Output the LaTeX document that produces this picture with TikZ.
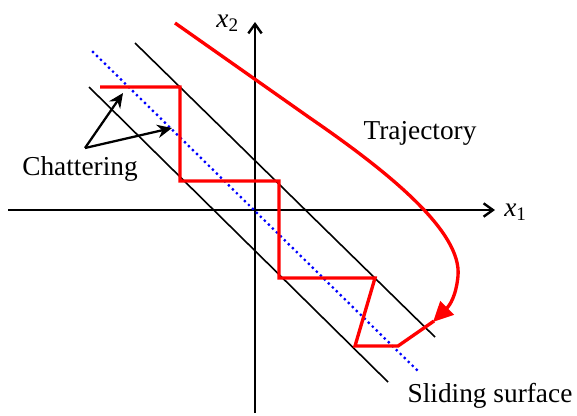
\documentclass[tikz,border=0pt]{standalone}
\usepackage{fontspec}
\setmainfont{Liberation Serif}
\usetikzlibrary{arrows.meta}
\begin{document}
\begin{tikzpicture}[x=0.75pt,y=-0.75pt,
  axis/.style={line width=1.6pt,-{Straight Barb[length=7pt,width=10pt,line width=1.8pt]}},
  band/.style={line width=1.2pt,black},
  surf/.style={blue,line width=2.4pt,line cap=round,dash pattern=on 0pt off 4.2pt},
  redpath/.style={red,line width=2.5pt,line join=miter},
  pointer/.style={line width=1.7pt,-{Stealth[length=11pt,width=10pt]}},
  lbl/.style={font=\fontsize{20.5}{24}\selectfont,inner sep=0pt},
  axlbl/.style={font=\fontsize{20.5}{24}\selectfont\itshape,inner sep=0pt}]
\path[use as bounding box] (0,0) rectangle (577,415);
% axes
\coordinate (xl) at (8,210);
\coordinate (xr) at (495,210);
\coordinate (yb) at (255,413);
\coordinate (yt) at (255,22);
\draw[axis] (xl) -- (xr);
\draw[axis] (yb) -- (yt);
\node[axlbl,anchor=west] (x1) at (504,212) {x\textsubscript{\upshape 1}};
\node[axlbl,anchor=south east] (x2) at (239,32) {x\textsubscript{\upshape 2}};
% band lines and sliding surface
\coordinate (ua) at (135,43);
\coordinate (ub) at (435,337);
\coordinate (la) at (89,87);
\coordinate (lb) at (388,382);
\coordinate (sa) at (93,52);
\coordinate (sb) at (420,373);
\draw[band] (ua) -- (ub);
\draw[band] (la) -- (lb);
\draw[surf] (sa) -- (sb);
% chattering path
\coordinate (c0) at (100,87);
\coordinate (c1) at (180,87);
\coordinate (c2) at (180,181);
\coordinate (c3) at (279,181);
\coordinate (c4) at (279,278);
\coordinate (c5) at (375,278);
\coordinate (c6) at (355,346);
\coordinate (c7) at (398,346);
\coordinate (c8) at (434,321);
\draw[redpath] (c0) -- (c1) -- (c2) -- (c3) -- (c4) -- (c5) -- (c6) -- (c7) -- (c8);
% trajectory
\coordinate (t0) at (175,23);
\coordinate (t1) at (310,118);
\coordinate (t2) at (458,276);
\coordinate (t3) at (433,322);
\draw[red,line width=2.5pt,-{Triangle[length=15pt,width=14pt]}]
  (t0) -- (t1) .. controls (390,173) and (462,232) .. (t2)
  .. controls (456,296) and (450,305) .. (t3);
% labels
\node[lbl] (traj) at (420,133) {Trajectory};
\node[lbl] (chat) at (80,169) {Chattering};
\node[lbl] (slide) at (490,396) {Sliding surface};
% chattering pointers
\coordinate (ct) at (85,148);
\coordinate (h1) at (123,93);
\coordinate (h2) at (172,128);
\draw[pointer] (ct) -- (h1);
\draw[pointer] (ct) -- (h2);
\end{tikzpicture}
\end{document}
